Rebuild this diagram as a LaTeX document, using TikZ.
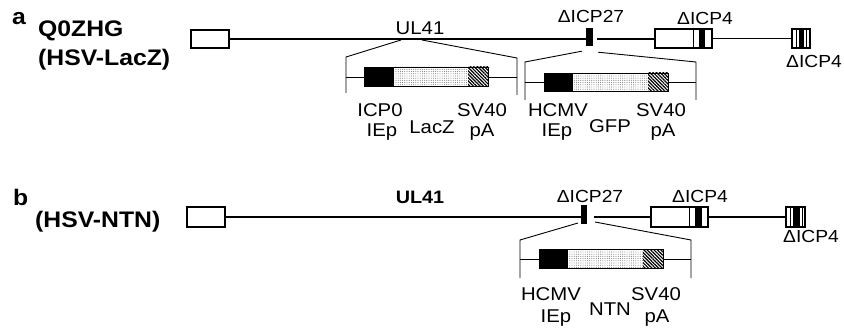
\documentclass[tikz,border=0pt]{standalone}
\usepackage{fontspec}
\setmainfont[FakeStretch=1.1]{Liberation Sans}
\usetikzlibrary{patterns.meta}

\begin{document}
\begin{tikzpicture}[x=1pt,y=-1pt,
  ttl/.style={anchor=base west,inner sep=0pt,font=\fontsize{22.5}{24}\selectfont\bfseries},
  lbl/.style={anchor=base,inner sep=0pt,font=\fontsize{18.5}{20}\selectfont},
  dlbl/.style={anchor=base,inner sep=0pt,font=\fontsize{17.5}{20}\selectfont},
  genome/.style={line width=1.6pt},
  cline/.style={line width=0.9pt},
  gbox/.style={draw,line width=1.1pt,fill=white,inner sep=0pt},
  blk/.style={fill=black,inner sep=0pt},
  stip/.style={pattern={Dots[distance=2.2pt,radius=0.45pt]},pattern color=gray!70!black},
  hatch/.style={pattern={Lines[angle=-45,distance=2.4pt,line width=1.2pt]}}]
\useasboundingbox (0,0) rectangle (844,329);

% panel a
\node[ttl] (a) at (12,25) {a};
\node[ttl] (qa) at (38,37) {Q0ZHG};
\node[ttl] (va) at (38,66) {(HSV-LacZ)};
\node[gbox,minimum width=38pt,minimum height=18pt] (trla) at (210,39) {};
\node[blk,minimum width=7pt,minimum height=18pt] (ia) at (589.5,37) {};
\node[gbox,minimum width=57pt,minimum height=19pt] (ira) at (683.5,38.5) {};
\node[gbox,minimum width=18pt,minimum height=19pt] (trsa) at (801,38.5) {};
\draw[genome] (trla.east) -- (trla.east -| ia.west);
\draw[genome] ([xshift=4pt]trla.east -| ia.east) -- (trla.east -| ira.west);
\draw[genome] (ira.east) -- (trsa.west);
\draw (693,29) -- (693,48);
\fill (699,29) rectangle (705,48);
\draw (796,29) -- (796,48) (806,29) -- (806,48);
\fill (798.5,29) rectangle (804,48);
\node[lbl] (ula) at (420,35) {UL41};
\node[dlbl] (d27a) at (591,23) {ΔICP27};
\node[dlbl] (d4a) at (705,25) {ΔICP4};
\node[dlbl] (d4b) at (814,68) {ΔICP4};

\coordinate (u1) at (401,40);
\coordinate (u2) at (422,40);
\draw[cline] (u1) -- (346,57) -- (346,93);
\draw[cline] (u2) -- (517,58) -- (517,95);
\draw[cline] (346,77) -- (517,77);
\fill (364,67) rectangle (394,86);
\fill[white] (394,67) rectangle (488,86);
\path[stip] (394,67) rectangle (468,86);
\path[hatch] (468,67) rectangle (488,86);
\draw (364,67) rectangle (488,86);
\node[lbl] (p1) at (380,117) {ICP0};
\node[lbl] (p2) at (382,136) {IEp};
\node[lbl] (g1) at (432,133) {LacZ};
\node[lbl] (s1) at (482,117) {SV40};
\node[lbl] (s2) at (482,136) {pA};

\draw[cline] (ia.south west) ++(-4,5) coordinate (c1) -- (525,62) -- (525,100);
\draw[cline] (ia.south east) ++(5,6) coordinate (c2) -- (696,62) -- (696,100);
\draw[cline] (525,82) -- (696,82);
\fill (544,73) rectangle (573,91);
\fill[white] (573,73) rectangle (668,91);
\path[stip] (573,73) rectangle (648,91);
\path[hatch] (648,73) rectangle (668,91);
\draw (544,73) rectangle (668,91);
\node[lbl] (h1) at (558,117) {HCMV};
\node[lbl] (h2) at (557,136) {IEp};
\node[lbl] (gf) at (610,132) {GFP};
\node[lbl] (s3) at (661,117) {SV40};
\node[lbl] (s4) at (663,136) {pA};

% panel b
\node[ttl] (b) at (13,205) {b};
\node[ttl] (vb) at (35,227) {(HSV-NTN)};
\node[gbox,minimum width=38pt,minimum height=20pt] (trlb) at (206,217) {};
\node[blk,minimum width=6pt,minimum height=19pt] (ib) at (584,214.5) {};
\node[gbox,minimum width=57pt,minimum height=20pt] (irb) at (679.5,217) {};
\node[gbox,minimum width=19pt,minimum height=20pt] (trsb) at (795.5,217) {};
\draw[genome] (trlb.east) -- (trlb.east -| ib.west);
\draw[genome] ([xshift=7pt]trlb.east -| ib.east) -- (trlb.east -| irb.west);
\draw[genome] (irb.east) -- (trsb.west);
\draw (689,207) -- (689,227);
\fill (695,207) rectangle (702,227);
\draw (790,207) -- (790,227) (802,207) -- (802,227);
\fill (793,207) rectangle (800,227);
\node[lbl,font=\fontsize{18}{20}\selectfont\bfseries] (ulb) at (420,203) {UL41};
\node[dlbl] (d27b) at (590,202) {ΔICP27};
\node[dlbl] (d4c) at (700,202) {ΔICP4};
\node[dlbl] (d4d) at (811,242) {ΔICP4};

\coordinate (c3) at (578,223);
\coordinate (c4) at (595,222);
\draw[cline] (c3) -- (520,240) -- (520,278);
\draw[cline] (c4) -- (691,240) -- (691,278);
\draw[cline] (520,259) -- (691,259);
\fill (539,249) rectangle (568,268);
\fill[white] (568,249) rectangle (663,268);
\path[stip] (568,249) rectangle (643,268);
\path[hatch] (643,249) rectangle (663,268);
\draw (539,249) rectangle (663,268);
\node[lbl] (h3) at (551,300) {HCMV};
\node[lbl] (h4) at (556,322) {IEp};
\node[lbl] (nt) at (610,315) {NTN};
\node[lbl] (s5) at (656,300) {SV40};
\node[lbl] (s6) at (657,322) {pA};
\end{tikzpicture}
\end{document}
